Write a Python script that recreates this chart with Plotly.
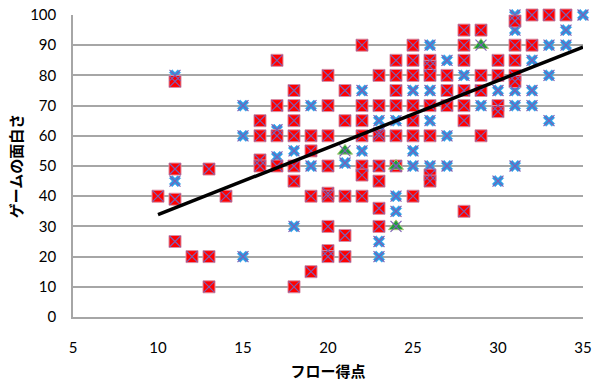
import plotly.graph_objects as go

# ---- data ----
red_points = {
    10: [40],
    11: [78, 49, 39, 25],
    12: [20],
    13: [49, 20, 10],
    14: [40],
    16: [65, 60, 52, 50],
    17: [85, 70, 60, 50],
    18: [75, 70, 65, 60, 50, 45, 10],
    19: [60, 55, 40, 15],
    20: [80, 70, 60, 50, 41, 40, 30, 22, 20],
    21: [75, 65, 40, 27, 20],
    22: [90, 70, 65, 60, 50, 47, 40],
    23: [80, 70, 60, 50, 45, 36, 30],
    24: [85, 80, 75, 70, 60, 50],
    25: [90, 85, 80, 70, 65, 60, 40],
    26: [85, 83, 80, 70, 60, 47, 45],
    27: [80, 75, 70],
    28: [95, 90, 85, 75, 70, 65, 35],
    29: [95, 80, 75, 60],
    30: [85, 80, 70, 68],
    31: [98, 90, 85, 80, 78],
    32: [100, 90],
    33: [100],
    34: [100],
}
blue_points = {
    11: [80, 45],
    15: [70, 60, 20],
    17: [62, 53],
    18: [55, 30],
    19: [70, 50],
    21: [51],
    22: [75, 55],
    23: [65, 61, 50, 25, 20],
    24: [65, 40, 35],
    25: [75, 55, 50],
    26: [90, 75, 65, 50],
    27: [85, 60, 50],
    28: [80],
    29: [70],
    30: [75, 45],
    31: [100, 95, 75, 70, 50],
    32: [85, 75, 70],
    33: [90, 80, 65],
    34: [95, 90],
    35: [100],
}
green_x = [21, 24, 24, 29]
green_y = [55, 50, 30, 90]

trend_x = [10, 35]
trend_y = [33.9, 89.4]

x_ticks = [5, 10, 15, 20, 25, 30, 35]
y_ticks = [0, 10, 20, 30, 40, 50, 60, 70, 80, 90, 100]
x_title = "フロー得点"
y_title = "ゲームの面白さ"


def flatten(d):
    xs, ys = [], []
    for k, vals in d.items():
        for v in vals:
            xs.append(k)
            ys.append(v)
    return xs, ys


red_x, red_y = flatten(red_points)
blue_x, blue_y = flatten(blue_points)

all_x = blue_x + red_x + green_x
all_y = blue_y + red_y + green_y

fig = go.Figure()
fig.add_trace(go.Scatter(
    x=blue_x, y=blue_y, mode="markers", cliponaxis=False,
    marker=dict(symbol="x", size=10, color="#2a9de6",
                line=dict(color="#2a9de6", width=0.5)),
    showlegend=False))
fig.add_trace(go.Scatter(
    x=red_x, y=red_y, mode="markers", cliponaxis=False,
    marker=dict(symbol="square", size=12, color="#ff0000",
                line=dict(color="#d890a8", width=1)),
    showlegend=False))
fig.add_trace(go.Scatter(
    x=green_x, y=green_y, mode="markers", cliponaxis=False,
    marker=dict(symbol="triangle-up", size=13, color="#1f9e3c",
                line=dict(color="#a8c878", width=1)),
    showlegend=False))
fig.add_trace(go.Scatter(
    x=all_x, y=all_y, mode="markers", cliponaxis=False,
    marker=dict(symbol="x-thin", size=11, color="#7d5fb4",
                line=dict(color="#7d5fb4", width=1.2)),
    showlegend=False))
fig.add_trace(go.Scatter(
    x=trend_x, y=trend_y, mode="lines",
    line=dict(color="black", width=3.5), showlegend=False))

fig.update_layout(
    width=603, height=385,
    margin=dict(l=73, r=20, t=15, b=68, autoexpand=False),
    paper_bgcolor="white", plot_bgcolor="white",
    font=dict(family="Lato, Carlito, sans-serif", size=14, color="black"),
    xaxis=dict(
        range=[5, 35], tickvals=x_ticks, showgrid=False, zeroline=False,
        showline=True, linecolor="#a6a6a6", linewidth=1.5,
        ticks="", ticklabelstandoff=16, automargin=False,
        tickfont=dict(family="Liberation Sans Narrow, Lato, sans-serif", size=15),
        title=dict(text=x_title, standoff=12,
                   font=dict(family="Noto Sans CJK JP", size=15, weight="bold")),
    ),
    yaxis=dict(
        range=[0, 100], tickvals=y_ticks, showgrid=True,
        gridcolor="#a6a6a6", gridwidth=1.5, zeroline=False,
        showline=True, linecolor="#a6a6a6", linewidth=1.5,
        ticks="", ticklabelstandoff=12, automargin=False,
        tickfont=dict(family="Lato, Carlito, sans-serif", size=15),
        title=dict(text=y_title, standoff=4,
                   font=dict(family="Noto Sans CJK JP", size=15, weight="bold")),
    ),
)

fig.write_html(
    "out.html",
    config={"displayModeBar": False},
    post_script="document.body.style.margin='0';document.body.style.overflow='hidden';",
)
